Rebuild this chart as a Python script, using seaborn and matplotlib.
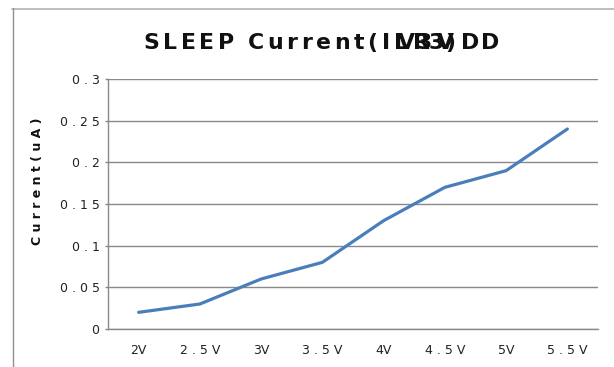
import matplotlib
matplotlib.use("Agg")
import matplotlib.pyplot as plt
import seaborn as sns
import pandas as pd
from matplotlib.lines import Line2D

# --- data -------------------------------------------------------------
voltages = ["2V", "2.5V", "3V", "3.5V", "4V", "4.5V", "5V", "5.5V"]
current_ua = [0.02, 0.03, 0.06, 0.08, 0.13, 0.17, 0.19, 0.24]
y_ticks = [0, 0.05, 0.1, 0.15, 0.2, 0.25, 0.3]
y_tick_labels = ["0", "0.05", "0.1", "0.15", "0.2", "0.25", "0.3"]
y_label = "Current(uA)"
title_text = "SLEEP Current(ILVR33V)DD"
# gap after a character of the title in pixels (default letter gap otherwise);
# negative values make the following glyph print over the previous one
title_gap_px = {14: 4, 15: -10, 16: -2, 17: -13, 18: -3.5, 19: -7, 20: -8,
                21: 4.5, 22: 2}

# --- figure -----------------------------------------------------------
W, H = 614, 367
sns.set_theme(style="white")
plt.rcParams["font.family"] = ["DejaVu Sans"]
plt.rcParams["mathtext.fontset"] = "dejavusans"

GRID = "#898989"
LINE = "#4A7EBB"
TITLE_PT = 15.8
DEFAULT_GAP_PX = 3.6


def letterspaced(s, sep=" "):
    return sep.join(s)


def tick_text(s):
    return letterspaced(s) if "." in s else s


def spaced_bold_math(text, gaps, size_pt, default_gap):
    # \hspace is measured in widths of an oblique 'm' (0.974 em in DejaVu)
    m_px = 0.974 * size_pt * 100 / 72
    parts = []
    for i, ch in enumerate(text):
        parts.append(r"\ " if ch == " " else ch)
        if i < len(text) - 1:
            gap = gaps.get(i, default_gap)
            parts.append(r"\hspace{%.3f}" % (gap / m_px))
    return r"$\mathbf{" + "".join(parts) + "}$"


fig = plt.figure(figsize=(W / 100, H / 100), dpi=100)
fig.patch.set_facecolor("white")

# plot area in pixels: left 108, right 598, top 79, bottom 329
ax = fig.add_axes([108 / W, 1 - 329 / H, 490 / W, 250 / H])
ax.set_facecolor("white")

df = pd.DataFrame({"Voltage": voltages, "Current": current_ua})
sns.lineplot(data=df, x="Voltage", y="Current", sort=False, ax=ax,
             color=LINE, linewidth=2.3, solid_capstyle="round")

ax.set_xlim(-0.5, len(voltages) - 0.5)
ax.set_ylim(0, 0.3)
ax.set_xticks(range(len(voltages)))
ax.set_xticklabels([tick_text(v) for v in voltages])
ax.set_yticks(y_ticks)
ax.set_yticklabels([tick_text(t) for t in y_tick_labels])
ax.set_xlabel("")
ax.set_ylabel("")

ax.yaxis.grid(True, color=GRID, linewidth=1.0)
ax.xaxis.grid(False)
for side in ("top", "right"):
    ax.spines[side].set_visible(False)
for side in ("left", "bottom"):
    ax.spines[side].set_color(GRID)
    ax.spines[side].set_linewidth(1.0)

ax.tick_params(axis="x", length=0, pad=11, labelsize=9, labelcolor="#222222")
ax.tick_params(axis="y", left=True, length=2.5, width=1.0, color=GRID,
               direction="out", pad=3.6, labelsize=9, labelcolor="#222222")

# y axis title
fig.text(38 / W, 1 - 181 / H, letterspaced(y_label), rotation=90,
         ha="center", va="center", fontsize=9, fontweight="bold",
         color="#111111")

# chart title
fig.text(143 / W, 1 - 49 / H,
         spaced_bold_math(title_text, title_gap_px, TITLE_PT, DEFAULT_GAP_PX),
         ha="left", va="baseline", fontsize=TITLE_PT, color="#111111")

# chart-area frame edges
fig.add_artist(Line2D([12 / W, 1], [1 - 8.5 / H] * 2, transform=fig.transFigure,
                      color="#b3b3b3", linewidth=1.2))
fig.add_artist(Line2D([12.5 / W] * 2, [1 - 8 / H, 0], transform=fig.transFigure,
                      color="#8f8f8f", linewidth=1.0))

fig.savefig("out.png", dpi=100, facecolor="white")
